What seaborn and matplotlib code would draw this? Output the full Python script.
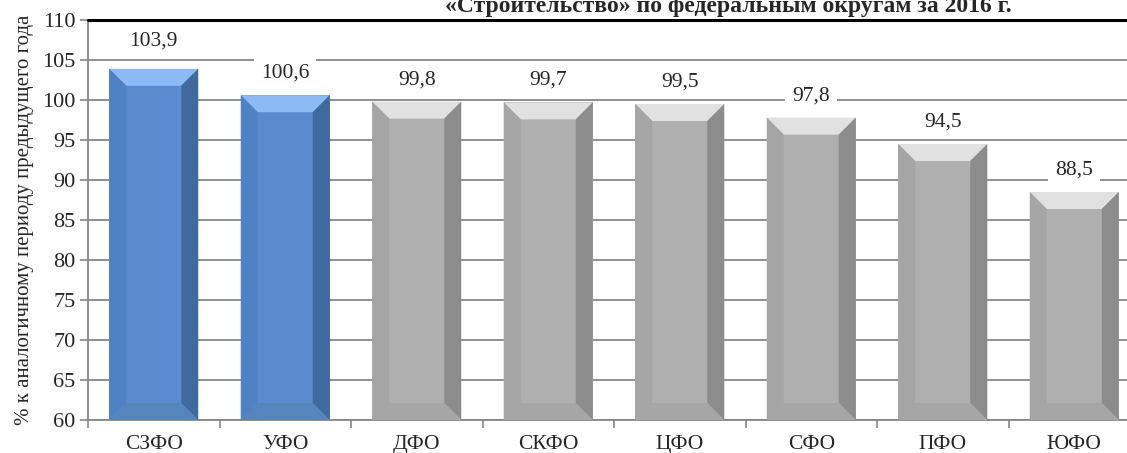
import numpy as np
import matplotlib
matplotlib.use('Agg')
import matplotlib.pyplot as plt
from matplotlib.patches import Polygon
import seaborn as sns

regions = ['СЗФО', 'УФО', 'ДФО', 'СКФО', 'ЦФО', 'СФО', 'ПФО', 'ЮФО']
values = [103.9, 100.6, 99.8, 99.7, 99.5, 97.8, 94.5, 88.5]
labels = ['103,9', '100,6', '99,8', '99,7', '99,5', '97,8', '94,5', '88,5']
group = ['up', 'up', 'down', 'down', 'down', 'down', 'down', 'down']

# face colours: front, top, left, right, bottom
faces = {
    'up': ['#5A8BCE', '#8DB9F5', '#4F82C5', '#3E6A9D', '#5884BE'],
    'down': ['#AFAFAF', '#E1E1E1', '#A5A5A5', '#8C8C8C', '#A6A6A6'],
}

sns.set_style('white')
plt.rcParams['font.family'] = ['Liberation Serif', 'DejaVu Serif']

fig = plt.figure(figsize=(11.27, 4.53), dpi=100)
ax = fig.add_axes([88 / 1127, 33 / 453, 1052 / 1127, 400 / 453])

ax = sns.barplot(x=regions, y=values, hue=group,
                 palette={'up': faces['up'][0], 'down': faces['down'][0]},
                 width=0.677, legend=False, ax=ax, zorder=2, linewidth=0,
                 dodge=False, saturation=1)
ymin, ymax = 60, 110
ax.set_ylim(ymin, ymax)
ax.set_xlim(-0.5, 7.5)

dx = 17 / 131.5
dy = 17 / 8.0
for p in ax.patches:
    x0 = p.get_x()
    w = p.get_width()
    top = p.get_y() + p.get_height()
    xc = x0 + w / 2
    i = int(round(xc))
    c = faces[group[i]]
    x1 = x0 + w
    polys = [
        ([(x0, top), (x1, top), (x1 - dx, top - dy), (x0 + dx, top - dy)], c[1]),
        ([(x0, ymin), (x0, top), (x0 + dx, top - dy), (x0 + dx, ymin + dy)], c[2]),
        ([(x1, ymin), (x1, top), (x1 - dx, top - dy), (x1 - dx, ymin + dy)], c[3]),
        ([(x0, ymin), (x1, ymin), (x1 - dx, ymin + dy), (x0 + dx, ymin + dy)], c[4]),
    ]
    for pts, col in polys:
        ax.add_patch(Polygon(pts, closed=True, facecolor=col, edgecolor='none', zorder=3))
    off = 3.5 if i == 0 else 2.75
    ax.text(xc, top + off, labels[i], ha='center', va='center', fontsize=15.5,
            zorder=5, bbox=dict(facecolor='white', edgecolor='none', pad=5))

ax.set_yticks(np.arange(60, 111, 5))
ax.yaxis.grid(True, color='#878787', linewidth=1.3, zorder=0)
ax.set_axisbelow(True)
ax.axhline(110, color='black', linewidth=2.2, zorder=4, clip_on=False)
ax.tick_params(axis='y', labelsize=16, length=6, width=1.2, color='#878787',
               direction='out', left=True, pad=3)
ax.set_xticks(range(len(regions)))
ax.set_xticklabels(regions)
ax.set_xticks(np.arange(-0.5, 8, 1), minor=True)
ax.tick_params(axis='x', which='major', labelsize=15.5, length=0, pad=11)
ax.tick_params(axis='x', which='minor', length=6, width=1.2, color='#878787',
               direction='out', bottom=True)
for s in ['top', 'right']:
    ax.spines[s].set_visible(False)
for s in ['left', 'bottom']:
    ax.spines[s].set_color('#878787')
    ax.spines[s].set_linewidth(1.3)
ax.set_xlabel('')
ax.set_ylabel('% к аналогичному периоду предыдущего года', fontsize=15, labelpad=6)

# title is cropped at the top edge in the source image
fig.text(728 / 1127, 1 - 12 / 453, '«Строительство» по федеральным округам за 2016 г.',
         ha='center', va='baseline', fontsize=17, fontweight='bold')

fig.savefig('out.png', dpi=100)
